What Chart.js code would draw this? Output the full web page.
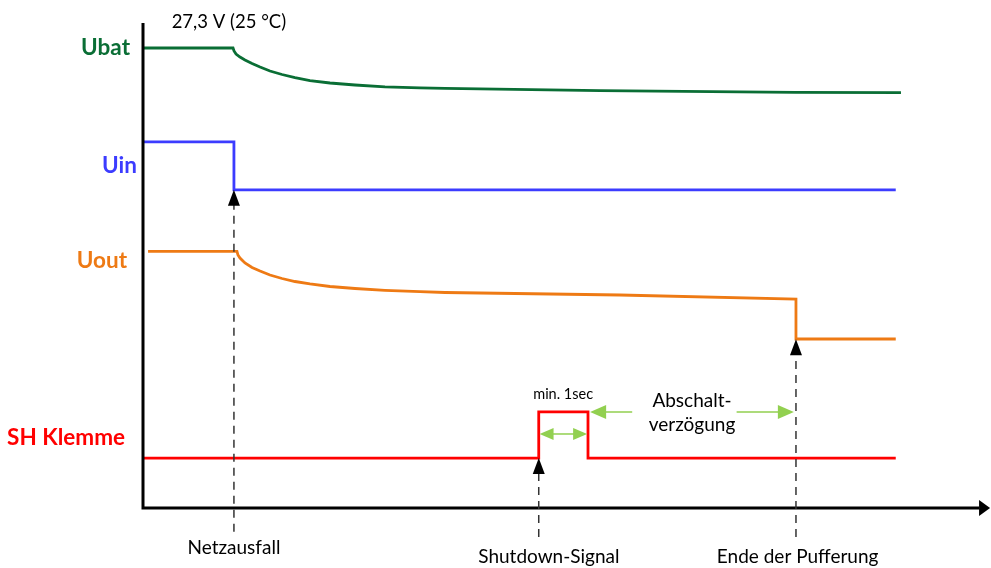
<!DOCTYPE html>
<html>
<head>
<meta charset="utf-8">
<script src="https://cdn.jsdelivr.net/npm/chart.js@4/dist/chart.umd.min.js"></script>
<style>
  html, body { margin: 0; padding: 0; background: #ffffff; }
  #wrap { width: 991px; height: 568px; }
</style>
</head>
<body>
<div id="wrap"><canvas id="c" width="991" height="568"></canvas></div>
<script>
// ---- Data (time in arbitrary units 0..100, level in arbitrary units 0..100) ----
const ubatT = [0, 10.69, 10.81, 11.05, 11.52, 12.11, 12.95, 13.90, 15.08, 16.51, 18.05, 19.83, 22.21, 25.18, 28.74, 32.90, 35.87, 54.28, 77.43, 90.02];
const ubatV = [94.85, 94.85, 94.23, 93.61, 92.99, 92.37, 91.65, 90.93, 90.10, 89.38, 88.76, 88.14, 87.63, 87.22, 86.85, 86.64, 86.54, 86.04, 85.71, 85.63];

const uinT = [0, 10.8, 10.8, 89.4];
const uinV = [75.5, 75.5, 65.6, 65.6];

const uoutT = [0.6, 11.16, 11.28, 11.52, 12.11, 12.95, 13.90, 15.08, 16.51, 18.05, 19.83, 22.21, 25.18, 28.74, 32.90, 35.87, 56.65, 77.55, 77.55, 89.4];
const uoutV = [52.93, 52.93, 52.16, 51.55, 50.52, 49.59, 48.87, 48.04, 47.32, 46.70, 46.19, 45.67, 45.26, 44.89, 44.60, 44.43, 43.92, 43.09, 34.85, 34.85];

const shT = [0, 47.0, 47.0, 52.85, 52.85, 89.4];
const shV = [10.3, 10.3, 19.8, 19.8, 10.3, 10.3];

const seriesNames = ['Ubat', 'Uin', 'Uout', 'SH Klemme'];
const seriesLabelV = [94.8, 70.5, 50.9, 14.4];

const eventT = [10.8, 47.0, 77.55];
const eventTipV = [65.6, 10.3, 34.8];
const eventBottomV = [-4.9, -6.0, -6.0];
const eventNames = ['Netzausfall', 'Shutdown-Signal', 'Ende der Pufferung'];
const eventLabelT = [10.8, 48.2, 77.75];
const eventLabelV = [-8.2, -10.1, -10.1];

const topNote = '27,3 V (25 °C)';
const pulseNote = 'min. 1sec';
const delayNote = ['Abschalt-', 'verzögung'];

// ---- Styles ----
const colors = ['#0A6E35', '#3C3CFF', '#EE7A14', '#FF0000'];
const green = '#92D050';
const textFont = 'Lato, "Open Sans", sans-serif';

function pts(t, v) { return t.map((x, i) => ({ x: x, y: v[i] })); }

function arrowHead(ctx, tipX, tipY, dir, len, half, color) {
  ctx.save();
  ctx.fillStyle = color;
  ctx.beginPath();
  if (dir === 'up') {
    ctx.moveTo(tipX, tipY);
    ctx.lineTo(tipX - half, tipY + len);
    ctx.lineTo(tipX + half, tipY + len);
  } else if (dir === 'left') {
    ctx.moveTo(tipX, tipY);
    ctx.lineTo(tipX + len, tipY - half);
    ctx.lineTo(tipX + len, tipY + half);
  } else {
    ctx.moveTo(tipX, tipY);
    ctx.lineTo(tipX - len, tipY - half);
    ctx.lineTo(tipX - len, tipY + half);
  }
  ctx.closePath();
  ctx.fill();
  ctx.restore();
}

const diagramPlugin = {
  id: 'diagram',
  afterDatasetsDraw(chart) {
    const ctx = chart.ctx;
    const xs = chart.scales.x, ys = chart.scales.y;
    const X = v => xs.getPixelForValue(v);
    const Y = v => ys.getPixelForValue(v);

    // axes
    ctx.save();
    ctx.strokeStyle = '#000';
    ctx.lineWidth = 3;
    ctx.beginPath();
    ctx.moveTo(X(0), Y(100));
    ctx.lineTo(X(0), Y(0));
    ctx.lineTo(X(99.3), Y(0));
    ctx.stroke();
    ctx.restore();
    arrowHead(ctx, X(100.6), Y(0), 'right', 11, 8, '#000');

    // event dashed markers
    eventT.forEach((t, i) => {
      const x = X(t);
      const tip = Y(eventTipV[i]);
      ctx.save();
      ctx.strokeStyle = '#333';
      ctx.lineWidth = 1.5;
      ctx.setLineDash([8, 6]);
      ctx.beginPath();
      ctx.moveTo(x, Y(eventBottomV[i]));
      ctx.lineTo(x, tip + 14);
      ctx.stroke();
      ctx.restore();
      arrowHead(ctx, x, tip, 'up', 16, 6, '#000');
    });

    // green arrows: pulse width
    const py = Y(15.26);
    ctx.save();
    ctx.strokeStyle = green;
    ctx.lineWidth = 1.5;
    ctx.beginPath();
    ctx.moveTo(X(47.1) + 10, py);
    ctx.lineTo(X(52.75) - 10, py);
    ctx.stroke();
    ctx.restore();
    arrowHead(ctx, X(47.1), py, 'left', 14, 6, green);
    arrowHead(ctx, X(52.75), py, 'right', 14, 6, green);

    // green arrows: delay
    const dy = Y(19.8);
    ctx.save();
    ctx.strokeStyle = green;
    ctx.lineWidth = 1.5;
    ctx.beginPath();
    ctx.moveTo(X(53.1) + 10, dy);
    ctx.lineTo(X(58.1), dy);
    ctx.moveTo(X(70.5), dy);
    ctx.lineTo(X(77.3) - 10, dy);
    ctx.stroke();
    ctx.restore();
    arrowHead(ctx, X(53.1), dy, 'left', 16, 7, green);
    arrowHead(ctx, X(77.3), dy, 'right', 16, 7, green);

    // series labels
    ctx.save();
    ctx.textAlign = 'right';
    ctx.textBaseline = 'middle';
    ctx.font = 'bold 22.5px ' + textFont;
    const labelRight = [130, 137, 127, 125];
    seriesNames.forEach((n, i) => {
      ctx.fillStyle = colors[i];
      ctx.fillText(n, labelRight[i], Y(seriesLabelV[i]));
    });
    ctx.restore();

    // texts
    ctx.save();
    ctx.fillStyle = '#000';
    ctx.textAlign = 'center';
    ctx.textBaseline = 'middle';
    ctx.font = '18.5px ' + textFont;
    ctx.fillText(topNote, X(10.2), Y(100.2));
    ctx.font = '19px ' + textFont;
    eventNames.forEach((n, i) => ctx.fillText(n, X(eventLabelT[i]), Y(eventLabelV[i])));
    ctx.fillText(delayNote[0], X(65.2), Y(22.1));
    ctx.fillText(delayNote[1], X(65.2), Y(17.1));
    ctx.font = '14.5px ' + textFont;
    ctx.fillText(pulseNote, X(49.9), Y(23.5));
    ctx.restore();
  }
};

const lineDs = (t, v, color) => ({
  data: pts(t, v),
  borderColor: color,
  borderWidth: 2.8,
  pointRadius: 0,
  fill: false,
  tension: 0,
  clip: false
});

new Chart(document.getElementById('c'), {
  type: 'line',
  data: {
    datasets: [
      lineDs(ubatT, ubatV, colors[0]),
      lineDs(uinT, uinV, colors[1]),
      lineDs(uoutT, uoutV, colors[2]),
      lineDs(shT, shV, colors[3])
    ]
  },
  options: {
    responsive: false,
    animation: false,
    layout: { padding: { left: 143, right: 6, top: 23, bottom: 60 } },
    plugins: { legend: { display: false }, tooltip: { enabled: false } },
    scales: {
      x: { type: 'linear', min: 0, max: 100, display: false },
      y: { type: 'linear', min: 0, max: 100, display: false }
    }
  },
  plugins: [diagramPlugin]
});
</script>
</body>
</html>
